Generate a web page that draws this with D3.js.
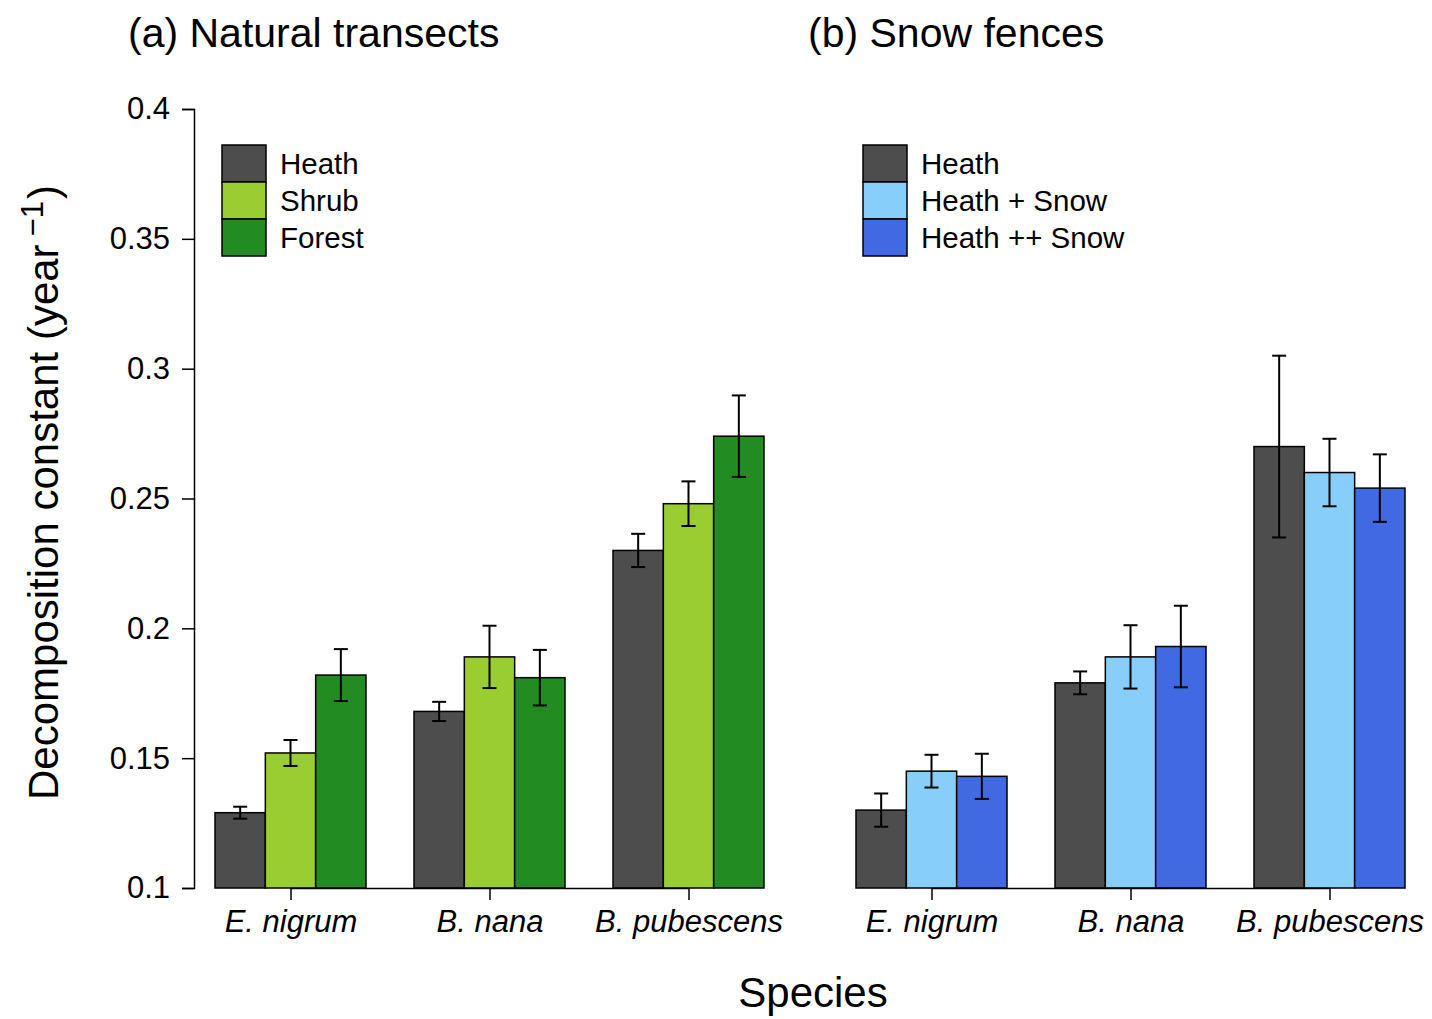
<!DOCTYPE html>
<html>
<head>
<meta charset="utf-8">
<script src="https://cdn.jsdelivr.net/npm/d3@7"></script>
<style>
  html, body { margin: 0; padding: 0; background: #fff; }
  svg { display: block; font-family: "Liberation Sans", Arial, Helvetica, sans-serif; }
</style>
</head>
<body>
<svg id="chart" width="1432" height="1019"></svg>
<script>
// Litter decomposition constants (k, per year) by species
const species = ["E. nigrum", "B. nana", "B. pubescens"];

// (a) natural transects
const transectLevels = ["Heath", "Shrub", "Forest"];
const transectMean = [
  [0.129, 0.152, 0.182],   // E. nigrum
  [0.168, 0.189, 0.181],   // B. nana
  [0.230, 0.248, 0.274]    // B. pubescens
];
const transectSE = [
  [0.0023, 0.0050, 0.0100],
  [0.0037, 0.0120, 0.0107],
  [0.0064, 0.0086, 0.0157]
];

// (b) snow fences
const fenceLevels = ["Heath", "Heath + Snow", "Heath ++ Snow"];
const fenceMean = [
  [0.130, 0.145, 0.143],
  [0.179, 0.189, 0.193],
  [0.270, 0.260, 0.254]
];
const fenceSE = [
  [0.0064, 0.0063, 0.0087],
  [0.0044, 0.0122, 0.0157],
  [0.0350, 0.0130, 0.0130]
];

const yTicks = [0.1, 0.15, 0.2, 0.25, 0.3, 0.35, 0.4];
const yTickLabels = ["0.1", "0.15", "0.2", "0.25", "0.3", "0.35", "0.4"];

const transectColors = ["#4D4D4D", "#9ACD32", "#228B22"];
const fenceColors = ["#4D4D4D", "#87CEFA", "#4169E1"];

const svg = d3.select("#chart");
const font = "'Liberation Sans', Arial, Helvetica, sans-serif";

const y = d3.scaleLinear().domain([0.1, 0.4]).range([888, 109]);

// shared y axis on the left of panel (a)
const yAxis = d3.axisLeft(y)
  .tickValues(yTicks)
  .tickFormat((d, i) => yTickLabels[i])
  .tickSize(12)
  .tickPadding(12);
const gy = svg.append("g").attr("transform", "translate(194,0)").call(yAxis);
gy.select(".domain").attr("stroke", "#000").attr("stroke-width", 1.5).attr("d", "M-12,109.5H0.5V888.5H-12");
gy.selectAll(".tick line").attr("stroke", "#000").attr("stroke-width", 1.5);
gy.selectAll(".tick text")
  .attr("font-family", font).attr("font-size", 31).attr("fill", "#000");

// y axis title with superscript
const yTitle = svg.append("text")
  .attr("transform", "translate(58,800) rotate(-90)")
  .attr("font-family", font)
  .attr("font-size", 42)
  .attr("fill", "#000");
yTitle.append("tspan").text("Decomposition constant (year");
yTitle.append("tspan").attr("font-size", 31).attr("dy", -15).attr("dx", 8).text("\u22121");
yTitle.append("tspan").attr("dy", 15).attr("dx", 2).text(")");

function panel(range, levels, means, ses, colors, title, titleX) {
  const x0 = d3.scaleBand().domain(species).range(range).paddingInner(48 / 199).paddingOuter(0);
  const x1 = d3.scaleBand().domain(levels).range([0, x0.bandwidth()]).padding(0);

  const g = svg.append("g");

  // bars
  species.forEach((sp, i) => {
    const grp = g.append("g").attr("transform", `translate(${x0(sp)},0)`);
    levels.forEach((lv, j) => {
      grp.append("rect")
        .attr("x", x1(lv))
        .attr("y", y(means[i][j]))
        .attr("width", x1.bandwidth())
        .attr("height", y(0.1) - y(means[i][j]))
        .attr("fill", colors[j])
        .attr("stroke", "#000")
        .attr("stroke-width", 1.5);
    });
    // error bars
    levels.forEach((lv, j) => {
      const cx = x1(lv) + x1.bandwidth() / 2;
      const hi = y(means[i][j] + ses[i][j]);
      const lo = y(means[i][j] - ses[i][j]);
      grp.append("line").attr("x1", cx).attr("x2", cx).attr("y1", hi).attr("y2", lo)
        .attr("stroke", "#000").attr("stroke-width", 2);
      [hi, lo].forEach(v => {
        grp.append("line").attr("x1", cx - 7).attr("x2", cx + 7).attr("y1", v).attr("y2", v)
          .attr("stroke", "#000").attr("stroke-width", 2);
      });
    });
  });

  // x axis at group centres
  const centres = species.map(sp => x0(sp) + x0.bandwidth() / 2);
  const xAxis = d3.axisBottom(d3.scaleOrdinal().domain(species).range(centres))
    .tickSize(12).tickPadding(10);
  const gx = g.append("g").attr("transform", "translate(0,888)").call(xAxis);
  gx.select(".domain").attr("stroke", "#000").attr("stroke-width", 1.5)
    .attr("d", `M${centres[0]},0.5H${centres[centres.length - 1]}`);
  gx.selectAll(".tick line").attr("stroke", "#000").attr("stroke-width", 1.5);
  gx.selectAll(".tick text")
    .attr("font-family", font).attr("font-size", 31).attr("font-style", "italic")
    .attr("fill", "#000").attr("dy", "0.72em");

  // legend
  const lx = range[0] + 7;
  const lg = g.append("g");
  levels.forEach((lv, j) => {
    lg.append("rect")
      .attr("x", lx).attr("y", 145 + j * 37)
      .attr("width", 44).attr("height", 37)
      .attr("fill", colors[j]).attr("stroke", "#000").attr("stroke-width", 1.5);
    lg.append("text")
      .attr("x", lx + 58).attr("y", 163.5 + j * 37)
      .attr("dy", "0.35em")
      .attr("font-family", font).attr("font-size", 29.5).attr("fill", "#000")
      .text(lv);
  });

  // panel title
  svg.append("text")
    .attr("x", titleX).attr("y", 47)
    .attr("font-family", font).attr("font-size", 41).attr("fill", "#000")
    .text(title);
}

panel([215, 764], transectLevels, transectMean, transectSE, transectColors, "(a) Natural transects", 128);
panel([856, 1405], fenceLevels, fenceMean, fenceSE, fenceColors, "(b) Snow fences", 808);

// shared x axis title
svg.append("text")
  .attr("x", 813).attr("y", 1007)
  .attr("text-anchor", "middle")
  .attr("font-family", font).attr("font-size", 42).attr("fill", "#000")
  .text("Species");
</script>
</body>
</html>
